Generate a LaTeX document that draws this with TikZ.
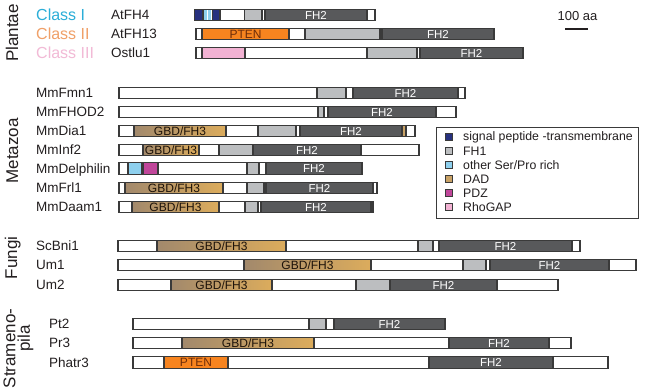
\documentclass[tikz,border=0pt]{standalone}
\usepackage{fontspec}
\setmainfont{Liberation Sans}
\definecolor{barc}{HTML}{3A3A3A}
\definecolor{fhtwoc}{HTML}{58595B}
\definecolor{fhonec}{HTML}{BCBEC0}
\definecolor{gbdl}{HTML}{A2896C}
\definecolor{gbdr}{HTML}{DCAC5C}
\definecolor{ptenc}{HTML}{F7841F}
\definecolor{navyc}{HTML}{27317F}
\definecolor{lbluec}{HTML}{8ED0EE}
\definecolor{dadc}{HTML}{C9A266}
\definecolor{pdzc}{HTML}{C0469A}
\definecolor{rhoc}{HTML}{F2B2D3}
\definecolor{txtc}{HTML}{231F20}
\definecolor{classone}{HTML}{2BAED8}
\definecolor{classtwo}{HTML}{F0A068}
\definecolor{classthree}{HTML}{F2BAD6}
\tikzset{
  outl/.style={draw=barc, line width=1.1pt},
  fhtwo/.style={outl, fill=fhtwoc},
  fhone/.style={outl, fill=fhonec},
  gbd/.style={outl, left color=gbdl, right color=gbdr},
  pten/.style={outl, fill=ptenc},
  navy/.style={outl, fill=navyc},
  lblue/.style={outl, fill=lbluec},
  dad/.style={outl, fill=dadc},
  pdz/.style={outl, fill=pdzc},
  rho/.style={outl, fill=rhoc},
  fhtxt/.style={text=white, font=\fontsize{11.5}{12}\selectfont, inner sep=0pt},
  gbdtxt/.style={text=black!85!brown, font=\fontsize{12}{12}\selectfont, inner sep=0pt},
  ptentxt/.style={text={rgb,255:red,110;green,45;blue,10}, font=\fontsize{12}{12}\selectfont, inner sep=0pt},
  protname/.style={anchor=base west, text=txtc, font=\fontsize{13.5}{14}\selectfont, inner sep=0pt},
  grp/.style={anchor=base, rotate=90, text=txtc, font=\fontsize{17}{18}\selectfont, inner sep=0pt},
  cls/.style={anchor=base west, font=\fontsize{16}{16}\selectfont, inner sep=0pt},
  legsq/.style={draw=barc, line width=0.8pt, minimum size=7pt, inner sep=0pt},
  legtxt/.style={anchor=west, text=txtc, font=\fontsize{12.3}{13}\selectfont, inner sep=0pt},
}
\newcommand\fullbar[3]{\path[outl, fill=white] (#2,{#1-5.8}) rectangle (#3,{#1+5.8});}
\newcommand\barout[3]{\draw[outl] (#2,{#1-5.8}) rectangle (#3,{#1+5.8});}
\newcommand\seg[4]{\path[#4] (#2,{#1-5.8}) rectangle (#3,{#1+5.8});}
\newcommand\segl[6]{\path[#4] (#2,{#1-5.8}) rectangle (#3,{#1+5.8});
  \node[#5] at ({(#2+#3)/2},#1) {#6};}
\begin{document}
\begin{tikzpicture}[x=1pt, y=-1pt]
\useasboundingbox (0,0) rectangle (667,389);
\fill[white] (0,0) rectangle (667,389);

% group labels
\node[grp] (gPlantae) at (18,33) {Plantae};
\node[grp] (gMetazoa) at (18,151) {Metazoa};
\node[grp] (gFungi) at (17,258) {Fungi};
\node[grp] (gStram) at (15.5,348.5) {Strameno-};
\node[grp] (gPila) at (30,338.5) {pila};

% class labels
\node[cls, text=classone] (c1) at (36,20) {Class I};
\node[cls, text=classtwo] (c2) at (36,39) {Class II};
\node[cls, text=classthree] (c3) at (36,58) {Class III};

% names
\node[protname] (nAtFH4) at (111,19.8) {AtFH4};
\node[protname] (nAtFH13) at (111,38.8) {AtFH13};
\node[protname] (nOstlu1) at (111,57.8) {Ostlu1};
\node[protname] (nFmn1) at (36,97.8) {MmFmn1};
\node[protname] (nFHOD2) at (36,116.8) {MmFHOD2};
\node[protname] (nDia1) at (36,135.8) {MmDia1};
\node[protname] (nInf2) at (36,154.8) {MmInf2};
\node[protname] (nDelph) at (36,173.3) {MmDelphilin};
\node[protname] (nFrl1) at (36,192.8) {MmFrl1};
\node[protname] (nDaam1) at (36,211.8) {MmDaam1};
\node[protname] (nBni1) at (36,250.8) {ScBni1};
\node[protname] (nUm1) at (36,269.8) {Um1};
\node[protname] (nUm2) at (36,289.8) {Um2};
\node[protname] (nPt2) at (49,328.8) {Pt2};
\node[protname] (nPr3) at (49,347.8) {Pr3};
\node[protname] (nPhatr3) at (49,367.3) {Phatr3};

% AtFH4
\fullbar{15}{194.5}{375}
\seg{15}{194.5}{203}{navy}
\path[fill=lbluec] (204.3,9.6) rectangle (206.7,20.4);
\path[fill=lbluec] (208,9.6) rectangle (210.7,20.4);
\seg{15}{212.3}{220}{navy}
\seg{15}{244.5}{262}{fhone}
\segl{15}{265}{367}{fhtwo}{fhtxt}{FH2}
\barout{15}{194.5}{375}
% AtFH13
\fullbar{34}{196}{494}
\segl{34}{202}{289}{pten}{ptentxt}{PTEN}
\seg{34}{305}{380}{fhone}
\segl{34}{382}{494}{fhtwo}{fhtxt}{FH2}
\barout{34}{196}{494}
% Ostlu1
\fullbar{53}{196}{523}
\seg{53}{202}{245}{rho}
\seg{53}{367}{417}{fhone}
\segl{53}{420}{523}{fhtwo}{fhtxt}{FH2}
\barout{53}{196}{523}

% MmFmn1
\fullbar{93}{119}{465}
\seg{93}{317}{346}{fhone}
\segl{93}{353}{458}{fhtwo}{fhtxt}{FH2}
\barout{93}{119}{465}
% MmFHOD2
\fullbar{112}{119}{456}
\seg{112}{318}{324}{fhone}
\segl{112}{328}{436}{fhtwo}{fhtxt}{FH2}
\barout{112}{119}{456}
% MmDia1
\fullbar{131}{119}{415}
\segl{131}{134}{226}{gbd}{gbdtxt}{GBD/FH3}
\seg{131}{258}{296}{fhone}
\segl{131}{300}{402}{fhtwo}{fhtxt}{FH2}
\seg{131}{402}{406}{dad}
\barout{131}{119}{415}
% MmInf2
\fullbar{150}{119}{419}
\segl{150}{143}{199}{gbd}{gbdtxt}{GBD/FH3}
\seg{150}{219}{253}{fhone}
\segl{150}{253}{361}{fhtwo}{fhtxt}{FH2}
\barout{150}{119}{419}
% MmDelphilin
\fullbar{168.5}{119}{362}
\seg{168.5}{128}{142}{lblue}
\seg{168.5}{143}{158}{pdz}
\seg{168.5}{247}{259}{fhone}
\segl{168.5}{266}{362}{fhtwo}{fhtxt}{FH2}
\barout{168.5}{119}{362}
% MmFrl1
\fullbar{188}{119}{377}
\segl{188}{125}{223}{gbd}{gbdtxt}{GBD/FH3}
\seg{188}{247}{264}{fhone}
\segl{188}{266}{373}{fhtwo}{fhtxt}{FH2}
\barout{188}{119}{377}
% MmDaam1
\fullbar{207}{119}{373}
\segl{207}{132}{219}{gbd}{gbdtxt}{GBD/FH3}
\seg{207}{245}{258}{fhone}
\segl{207}{261}{371}{fhtwo}{fhtxt}{FH2}
\barout{207}{119}{373}

% ScBni1
\fullbar{246}{118}{580}
\segl{246}{157}{286}{gbd}{gbdtxt}{GBD/FH3}
\seg{246}{418}{433}{fhone}
\segl{246}{439}{572}{fhtwo}{fhtxt}{FH2}
\barout{246}{118}{580}
% Um1
\fullbar{265}{118}{636}
\segl{265}{244}{371}{gbd}{gbdtxt}{GBD/FH3}
\seg{265}{463}{486}{fhone}
\segl{265}{490}{609}{fhtwo}{fhtxt}{FH2}
\barout{265}{118}{636}
% Um2
\fullbar{285}{118}{558}
\segl{285}{171}{272}{gbd}{gbdtxt}{GBD/FH3}
\seg{285}{356}{390}{fhone}
\segl{285}{390}{497}{fhtwo}{fhtxt}{FH2}
\barout{285}{118}{558}

% Pt2
\fullbar{324}{133}{445}
\seg{324}{309}{326}{fhone}
\segl{324}{334}{445}{fhtwo}{fhtxt}{FH2}
\barout{324}{133}{445}
% Pr3
\fullbar{343}{133}{571}
\segl{343}{182}{314}{gbd}{gbdtxt}{GBD/FH3}
\segl{343}{449}{549}{fhtwo}{fhtxt}{FH2}
\barout{343}{133}{571}
% Phatr3
\fullbar{362.5}{133}{608}
\segl{362.5}{164}{228}{pten}{ptentxt}{PTEN}
\segl{362.5}{429}{553}{fhtwo}{fhtxt}{FH2}
\barout{362.5}{133}{608}

% scale bar
\node[text=txtc, font=\fontsize{13}{13}\selectfont, inner sep=0pt] (scale) at (577.5,16) {100 aa};
\coordinate (sbA) at (565,29);
\coordinate (sbB) at (588,29);
\draw[line width=2pt, txtc] (sbA) -- (sbB);

% legend
\draw[draw=barc, line width=0.9pt] (436,127) rectangle (638,218);
\node[legsq, fill=navyc] (l1) at (449,137) {};
\node[legsq, fill=fhonec] (l2) at (449,151) {};
\node[legsq, fill=lbluec] (l3) at (449,165) {};
\node[legsq, fill=dadc] (l4) at (449,179) {};
\node[legsq, fill=pdzc] (l5) at (449,193) {};
\node[legsq, fill=rhoc] (l6) at (449,207) {};
\node[legtxt] (t1) at (463,137) {signal peptide -transmembrane};
\node[legtxt] (t2) at (463,151) {FH1};
\node[legtxt] (t3) at (463,165) {other Ser/Pro rich};
\node[legtxt] (t4) at (463,179) {DAD};
\node[legtxt] (t5) at (463,193) {PDZ};
\node[legtxt] (t6) at (463,207) {RhoGAP};
\end{tikzpicture}
\end{document}
